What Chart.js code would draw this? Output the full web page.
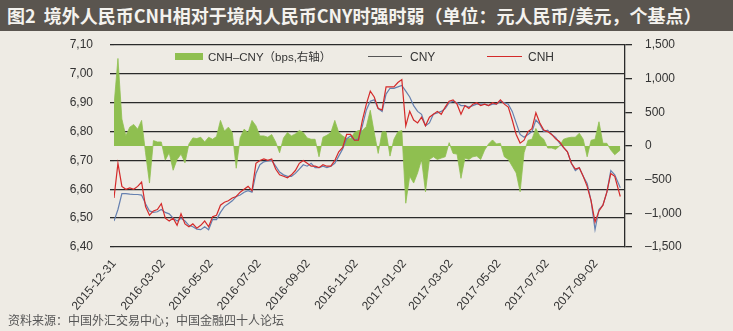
<!DOCTYPE html>
<html><head><meta charset="utf-8">
<script src="https://cdn.jsdelivr.net/npm/chart.js@4.4.1/dist/chart.umd.min.js"></script>
<style>
html,body{margin:0;padding:0;background:#eeebe4;}
#wrap{position:relative;width:733px;height:331px;overflow:hidden;background:#eeebe4;}
#title{position:absolute;left:0;top:0;width:733px;height:31px;background:#5a554f;color:#f4f2ee;font-family:"Noto Sans CJK SC","Noto Sans",sans-serif;font-weight:700;font-size:18px;line-height:31px;white-space:nowrap;padding-left:7px;box-sizing:border-box;}
#src{position:absolute;left:8px;top:311px;font-family:"Noto Sans CJK SC",sans-serif;font-size:12px;color:#555;white-space:nowrap;}
.lg{position:absolute;font-family:"Liberation Sans","Noto Sans CJK SC",sans-serif;font-size:12px;color:#333;white-space:nowrap;line-height:14px;}
canvas{position:absolute;left:0;top:0;}
</style></head>
<body><div id="wrap">
<canvas id="c" width="733" height="331"></canvas>
<div id="title">图2&nbsp;&nbsp;境外人民币CNH相对于境内人民币CNY时强时弱（单位：元人民币/美元，个基点）</div>
<div class="lg" style="left:175px;top:53px;width:28px;height:7px;background:#8fbf50;"></div>
<div class="lg" style="left:208px;top:50px;font-size:11.5px;">CNH–CNY（bps,右轴）</div>
<div class="lg" style="left:368px;top:56px;width:34px;height:1px;background:#555;"></div>
<div class="lg" style="left:410px;top:50px;">CNY</div>
<div class="lg" style="left:487px;top:56px;width:35px;height:1px;background:#d42a2a;"></div>
<div class="lg" style="left:528px;top:50px;">CNH</div>
<div id="src">资料来源：中国外汇交易中心；中国金融四十人论坛</div>
</div>
<script>
// days since 2015-12-31
const dayIndex = [0,5,10,15,20,25,30,35,40,45,50,55,60,65,70,75,80,85,90,95,
100,105,110,115,120,125,130,135,140,145,150,155,160,165,170,175,180,185,190,195,
200,205,210,215,220,225,230,235,240,245,250,255,260,265,270,275,280,285,290,295,
300,305,310,315,320,325,330,335,340,345,350,355,360,365,370,375,380,385,390,395,
400,405,410,415,420,425,430,435,440,445,450,455,460,465,470,475,480,485,490,495,
500,505,510,515,520,525,530,535,540,545,550,555,560,565,570,575,580,585,590,595,
600,605,610,615,620,625,630,635,642];
const cnh = [6.570,6.690,6.610,6.600,6.605,6.600,6.610,6.625,6.540,6.510,
6.525,6.530,6.550,6.500,6.490,6.500,6.475,6.515,6.480,6.470,
6.480,6.465,6.475,6.490,6.470,6.505,6.510,6.545,6.555,6.560,
6.570,6.575,6.590,6.600,6.610,6.595,6.690,6.700,6.705,6.700,
6.705,6.670,6.650,6.645,6.640,6.650,6.665,6.690,6.700,6.690,
6.680,6.680,6.675,6.685,6.680,6.680,6.700,6.730,6.745,6.790,
6.790,6.770,6.770,6.840,6.895,6.940,6.920,6.880,6.875,6.955,
6.955,6.955,6.970,6.980,6.820,6.870,6.840,6.830,6.850,6.820,
6.850,6.860,6.870,6.860,6.885,6.905,6.910,6.895,6.860,6.890,
6.880,6.895,6.900,6.890,6.895,6.890,6.900,6.895,6.910,6.895,
6.885,6.840,6.790,6.760,6.770,6.800,6.810,6.865,6.830,6.805,
6.800,6.790,6.775,6.765,6.745,6.730,6.690,6.670,6.675,6.645,
6.610,6.560,6.487,6.525,6.545,6.590,6.655,6.645,6.575];
const cny = [6.490,6.530,6.585,6.585,6.583,6.582,6.582,6.580,6.550,6.525,
6.520,6.522,6.530,6.520,6.515,6.500,6.490,6.500,6.490,6.475,
6.470,6.462,6.460,6.470,6.460,6.495,6.495,6.520,6.540,6.550,
6.560,6.575,6.580,6.590,6.595,6.590,6.655,6.685,6.695,6.698,
6.700,6.680,6.660,6.650,6.645,6.645,6.655,6.670,6.685,6.680,
6.690,6.675,6.675,6.680,6.675,6.680,6.690,6.715,6.740,6.775,
6.785,6.770,6.775,6.820,6.875,6.905,6.910,6.880,6.870,6.930,
6.950,6.950,6.955,6.960,6.940,6.920,6.890,6.870,6.860,6.820,
6.830,6.860,6.865,6.870,6.880,6.900,6.905,6.900,6.890,6.890,
6.885,6.890,6.895,6.895,6.895,6.890,6.895,6.895,6.905,6.900,
6.895,6.870,6.830,6.790,6.780,6.790,6.800,6.840,6.825,6.800,
6.805,6.790,6.780,6.760,6.745,6.730,6.690,6.665,6.675,6.645,
6.620,6.560,6.460,6.530,6.545,6.590,6.665,6.650,6.605];
const spreadBps = [600,1300,400,150,280,320,250,380,-100,-550,
80,60,60,-210,-100,-360,-200,-120,-250,30,
120,110,130,60,130,100,140,380,220,280,
200,-330,120,250,200,380,300,150,150,130,
170,60,-100,120,200,150,180,230,200,120,
100,100,-160,130,160,200,380,200,150,110,
110,200,230,230,290,530,200,-110,210,210,
-150,100,210,230,-850,-450,-550,-400,-200,-680,
-200,-160,-200,-180,-160,50,-110,-120,-480,-180,
-200,-160,-150,-200,-60,30,90,30,40,-160,
-200,-300,-400,-680,-100,85,100,260,150,100,
-30,-30,-50,0,100,120,130,130,190,100,
-160,85,100,360,40,40,-60,-130,-60];
const xTickLabels = ['2015-12-31','2016-03-02','2016-05-02','2016-07-02','2016-09-02','2016-11-02','2017-01-02','2017-03-02','2017-05-02','2017-07-02','2017-09-02'];

const base = Date.UTC(2015,11,31);
const xTickDays = xTickLabels.map(s=>{const [y,m,d]=s.split('-').map(Number);return Math.round((Date.UTC(y,m-1,d)-base)/86400000);});
const pts = arr => arr.map((v,i)=>({x:dayIndex[i],y:v}));
const fmtThousands = v => { const a=Math.abs(Math.round(v)); const s=a.toString().replace(/\B(?=(\d{3})+(?!\d))/g,','); return (v<0?'–':'')+s; };
const axisFont = {family:'"Liberation Sans", Arial, sans-serif', size:12};

new Chart(document.getElementById('c'), {
  type:'line',
  data:{datasets:[
    {label:'CNH', data:pts(cnh), yAxisID:'y', borderColor:'#d42a2a', borderWidth:1.2, pointRadius:0, tension:0, fill:false},
    {label:'CNY', data:pts(cny), yAxisID:'y', borderColor:'#6580b0', borderWidth:1.2, pointRadius:0, tension:0, fill:false},
    {label:'CNH–CNY（bps,右轴）', data:pts(spreadBps), yAxisID:'y2', borderColor:'#8fbf50', backgroundColor:'#8fbf50', borderWidth:0.8, pointRadius:0, tension:0, fill:'origin'}
  ]},
  options:{
    responsive:false, animation:false,
    layout:{padding:{top:45,left:0,right:0,bottom:0}},
    plugins:{legend:{display:false}, tooltip:{enabled:false}},
    scales:{
      x:{type:'linear', min:0, max:648,
        afterFit:s=>{s.height=84;},
        afterBuildTicks:s=>{s.ticks=xTickDays.map(v=>({value:v}));},
        ticks:{autoSkip:false, minRotation:50, maxRotation:50, color:'#333', font:axisFont, padding:2,
          callback:(v,i)=>xTickLabels[i]},
        grid:{display:false}, border:{display:false}},
      y:{position:'left', min:6.4, max:7.1,
        afterFit:s=>{s.width=114;},
        afterBuildTicks:s=>{const t=[];for(let k=0;k<=7;k++)t.push({value:6.4+k*0.1});s.ticks=t;},
        ticks:{color:'#333', font:axisFont, padding:17, callback:v=>v.toFixed(2).replace('.',',')},
        grid:{color:'#2a2a2a', lineWidth:1.3, tickLength:4, tickColor:'#2a2a2a'},
        border:{display:false}},
      y2:{position:'right', min:-1500, max:1500,
        afterFit:s=>{s.width=108;},
        afterBuildTicks:s=>{const t=[];for(let k=-1500;k<=1500;k+=500)t.push({value:k});s.ticks=t;},
        ticks:{color:'#333', font:axisFont, padding:13, callback:v=>fmtThousands(v)},
        grid:{drawOnChartArea:false, color:'#2a2a2a', lineWidth:1.3, tickLength:7},
        border:{display:true, color:'#2a2a2a', width:1.3}}
    }
  }
});
</script>
</body></html>
